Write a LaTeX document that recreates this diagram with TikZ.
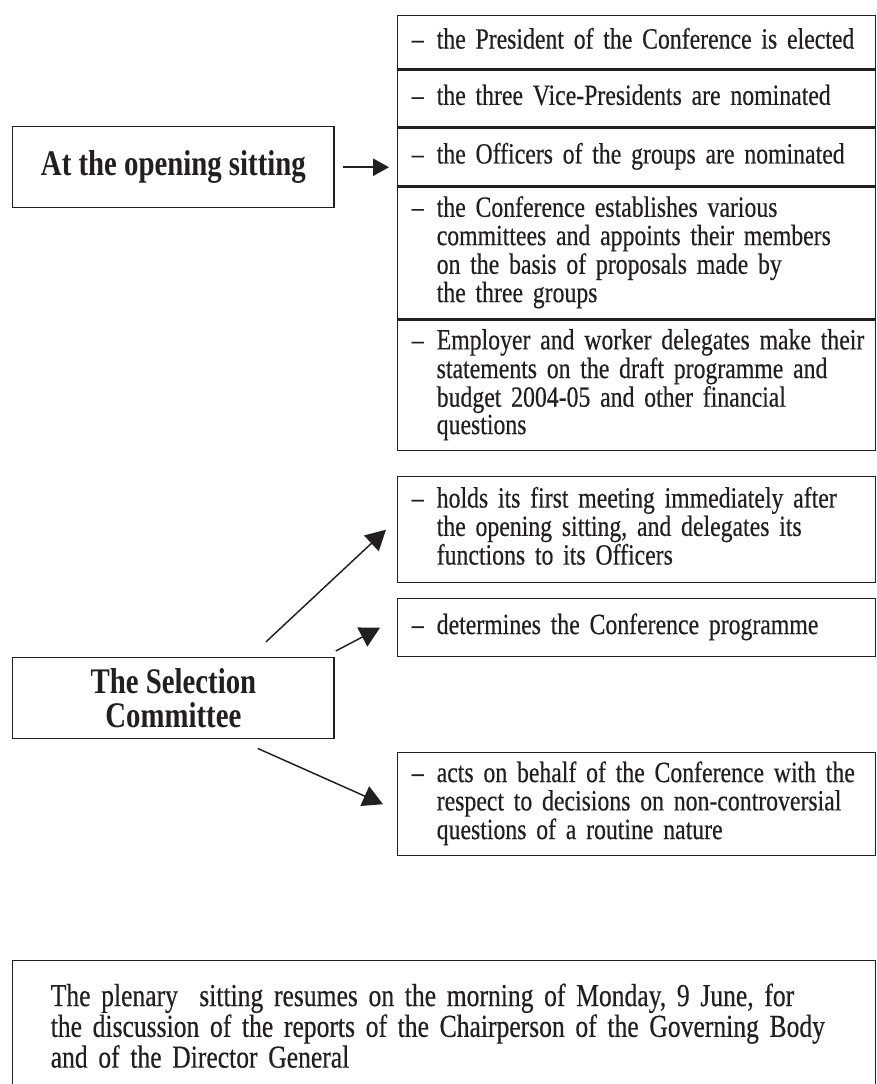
\documentclass[tikz,border=0pt]{standalone}
\usepackage{fontspec}
\setmainfont{Liberation Serif}
\newfontfamily\itemfont{Liberation Serif}[FakeStretch=0.81, FakeBold=0.4]
\newfontfamily\headfont{Liberation Serif}[FakeStretch=0.8]
\newfontfamily\plenfont{Liberation Serif}[FakeStretch=0.8, FakeBold=0.4]
\usetikzlibrary{arrows.meta}
\definecolor{inkdark}{HTML}{231F20}

% dash in front, following lines indented
\newcommand{\dashlines}[1]{\begin{tabular}{@{}p{18.75pt}@{}l@{}}–&#1\end{tabular}}

\begin{document}
\begin{tikzpicture}[
  x=0.75pt, y=-0.75pt,
  color=inkdark, line width=1.1pt,
  itembox/.style={draw, rectangle, anchor=north west, text width=337.5pt, inner xsep=10.5pt, inner ysep=0pt, align=left, font=\itemfont\fontsize{22}{20}\selectfont},
  headbox/.style={draw, rectangle, anchor=north west, minimum width=241pt, minimum height=60.75pt, inner sep=0pt, align=center, font=\headfont\bfseries\fontsize{27}{25}\selectfont},
  bigarrow/.style={-{Triangle[length=15pt, width=16pt]}},
  smallarrow/.style={-{Triangle[length=12pt, width=13pt]}}
]
\useasboundingbox (0,0) rectangle (877,1084);

% Opening sitting and what happens there
\node[headbox] (open) at (12,126) {At the opening sitting};

\node[itembox, minimum height=39.75pt] (r1) at (397,15) {\dashlines{the President of the Conference is elected}};
\node[itembox, minimum height=42.75pt] (r2) at (r1.south west) {\dashlines{the three Vice-Presidents are nominated}};
\node[itembox, minimum height=42.75pt] (r3) at (r2.south west) {\dashlines{the Officers of the groups are nominated}};
\node[itembox, minimum height=99pt] (r4) at (r3.south west) {\dashlines{the Conference establishes various\\& committees and appoints their members\\& on the basis of proposals made by\\& the three groups}};
\node[itembox, minimum height=97.5pt] (r5) at (r4.south west) {\dashlines{Employer and worker delegates make their\\& statements on the draft programme and\\& budget 2004-05 and other financial\\& questions}};

\draw[smallarrow] ([xshift=6pt]open.east) -- ([xshift=-6pt]open.east -| r3.west);

% Selection Committee
\node[headbox] (sel) at (12,657) {The Selection\\Committee};

\node[itembox, minimum height=79.5pt] (holds) at (397,476) {\dashlines{holds its first meeting immediately after\\& the opening sitting, and delegates its\\& functions to its Officers}};
\node[itembox, minimum height=43.5pt] (progr) at (397,598) {\dashlines{determines the Conference programme}};
\node[itembox, minimum height=77.25pt] (acts) at (397,752) {\dashlines{acts on behalf of the Conference with the\\& respect to decisions on non-controversial\\& questions of a routine nature}};

\draw[bigarrow] ([xshift=-51.75pt, yshift=11.25pt]sel.north east) -- ([xshift=-8.25pt]holds.west);
\draw[bigarrow] ([xshift=0.75pt, yshift=4.5pt]sel.north east) -- ([xshift=-12.75pt]progr.west);
\draw[bigarrow] ([xshift=-57.75pt, yshift=-6.75pt]sel.south east) -- ([xshift=-10.5pt]acts.west);

% Plenary sitting
\node[draw, rectangle, anchor=north west, text width=590.25pt, inner xsep=28.5pt, minimum height=97.5pt, align=left, font=\plenfont\fontsize{24}{21}\selectfont] (plenary) at (12,960) {The plenary\ \ sitting resumes on the morning of Monday, 9 June, for\\the discussion of the reports of the Chairperson of the Governing Body\\and of the Director General};

\end{tikzpicture}
\end{document}
